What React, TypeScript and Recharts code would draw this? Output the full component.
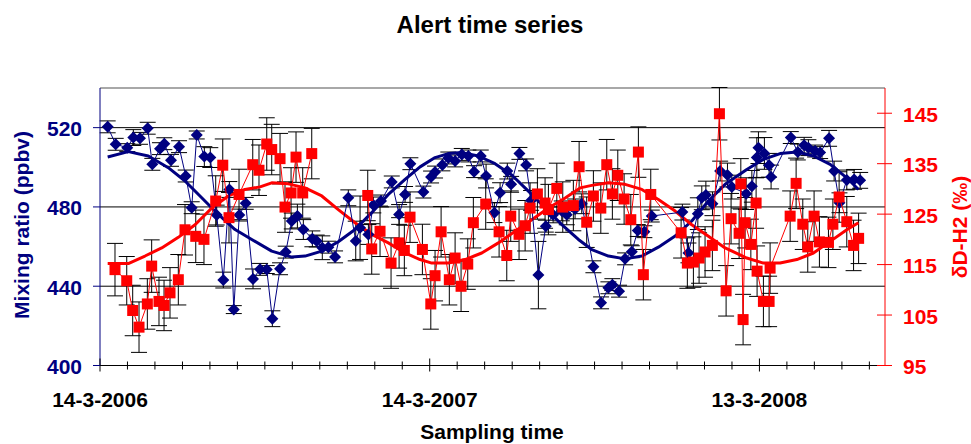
import React from 'react';
import { ComposedChart, Scatter, XAxis, YAxis, CartesianGrid, ErrorBar, ReferenceLine } from 'recharts';

const FONT = '"Liberation Sans", Arial, Helvetica, sans-serif';
const NAVY = '#000080';
const RED = '#ff0000';

// days since 14-3-2006
const blueDays = [8.5, 17.4, 30.2, 36.9, 44.3, 52.8, 57.9, 66.4, 71.2, 78.6, 87.5, 94.9, 101.5, 107.1, 115.5, 122.1, 129.2, 136.5, 143.2, 148.1, 154.2, 161.3, 169.4, 177.2, 184.6, 190.8, 199.3, 205.6, 212.3, 218.5, 225.1, 235.1, 239.9, 246.1, 252.8, 260.2, 274.9, 283.1, 287.9, 297.1, 302.6, 311.1, 323.0, 331.1, 337.7, 343.6, 358.0, 366.5, 370.9, 379.0, 385.6, 393.1, 400.5, 407.8, 414.1, 421.5, 427.4, 436.6, 442.9, 450.9, 455.1, 464.3, 471.7, 477.2, 485.3, 493.5, 501.6, 511.2, 516.7, 525.9, 533.3, 546.2, 554.7, 562.8, 567.2, 574.6, 581.3, 588.7, 595.3, 602.6, 610.8, 644.7, 651.4, 661.8, 666.2, 670.7, 678.0, 686.5, 694.6, 699.4, 715.3, 721.6, 727.1, 728.9, 735.5, 740.7, 742.9, 764.7, 772.5, 779.5, 784.2, 791.6, 797.2, 807.1, 812.7, 818.6, 826.7, 834.8, 841.5];
const blueValues = [520.4, 511.6, 509.9, 515.0, 514.6, 519.7, 501.5, 509.4, 511.9, 503.5, 510.4, 495.6, 479.6, 516.3, 505.4, 504.9, 475.9, 443.1, 488.8, 428.2, 475.9, 481.8, 443.7, 448.5, 448.4, 423.6, 448.8, 457.2, 472.9, 475.4, 468.6, 463.9, 462.8, 459.4, 459.7, 454.8, 484.6, 462.8, 469.5, 466.1, 481.0, 483.0, 492.6, 476.2, 486.3, 501.8, 487.5, 495.1, 497.6, 501.2, 504.7, 503.2, 506.5, 505.7, 497.8, 505.7, 495.6, 477.1, 487.2, 498.1, 491.4, 507.0, 501.2, 483.3, 445.6, 470.3, 476.0, 478.0, 476.0, 479.0, 481.6, 449.8, 431.6, 439.2, 440.8, 437.5, 453.8, 457.4, 468.1, 467.5, 475.4, 477.4, 456.8, 476.6, 484.6, 486.0, 481.6, 498.1, 496.1, 490.0, 486.7, 490.4, 504.9, 509.9, 507.0, 501.0, 495.1, 515.0, 507.7, 511.1, 509.9, 508.2, 507.4, 514.6, 498.1, 482.1, 493.6, 493.9, 493.4];
const blueErrors = [3, 3, 2, 4, 3, 3, 3, 3, 3, 3, 3, 3, 3, 2, 5, 5, 5, 4, 4, 2, 3, 3, 5, 3, 2, 4, 3, 3, 4, 6, 5, 4, 3, 6, 3, 3, 4, 10, 16, 5, 4, 3, 3, 5, 4, 3, 3, 3, 3, 3, 3, 3, 3, 3, 3, 3, 6, 5, 5, 4, 4, 3, 3, 5, 17, 3, 4, 5, 5, 5, 5, 3, 3, 3, 3, 3, 3, 3, 3, 3, 3, 4, 5, 8, 6, 7, 6, 5, 6, 6, 8, 8, 10, 8, 8, 6, 6, 3, 4, 4, 4, 3, 3, 4, 5, 5, 5, 5, 4];

const redDays = [16.6, 29.6, 36.2, 43.2, 52.4, 57.2, 65.3, 70.9, 77.5, 86.7, 94.1, 106.0, 115.1, 128.1, 135.9, 142.8, 153.9, 169.1, 176.0, 184.6, 190.1, 199.3, 204.8, 211.5, 217.0, 224.4, 234.4, 296.4, 300.8, 310.0, 322.2, 331.1, 336.9, 343.2, 356.9, 366.2, 370.9, 377.6, 386.7, 393.1, 399.7, 407.1, 413.3, 427.0, 441.8, 450.3, 454.7, 463.9, 470.6, 476.1, 484.2, 492.7, 496.4, 505.7, 512.3, 524.0, 530.4, 538.8, 546.2, 554.4, 561.0, 567.2, 573.2, 580.2, 587.6, 596.0, 601.5, 609.7, 643.3, 650.2, 656.9, 663.2, 669.8, 677.9, 685.7, 693.1, 698.6, 707.5, 709.4, 711.9, 714.1, 720.5, 726.3, 727.4, 734.4, 740.7, 741.8, 764.0, 770.6, 778.0, 783.5, 790.5, 796.4, 806.4, 811.3, 818.2, 826.7, 834.2, 839.8];
const redValues = [114.0, 111.8, 105.9, 102.6, 107.2, 114.7, 107.7, 106.9, 109.4, 112.0, 121.9, 120.6, 120.0, 127.6, 134.7, 124.3, 128.9, 134.8, 133.7, 138.9, 137.8, 136.0, 126.4, 129.2, 136.3, 129.2, 137.0, 128.7, 118.1, 121.6, 115.3, 119.3, 117.8, 124.4, 118.0, 107.2, 112.8, 121.5, 112.0, 116.3, 110.7, 115.1, 123.3, 127.0, 121.5, 116.8, 124.6, 121.0, 122.7, 126.2, 129.0, 127.2, 125.9, 130.1, 126.4, 126.7, 134.4, 123.4, 128.6, 126.2, 134.8, 129.0, 132.7, 128.0, 123.9, 137.3, 113.0, 128.9, 121.3, 115.3, 115.5, 116.3, 117.5, 118.8, 144.9, 109.8, 124.1, 121.2, 131.0, 104.1, 123.3, 119.0, 127.2, 113.7, 107.7, 107.7, 114.3, 124.6, 131.1, 123.0, 118.5, 124.6, 119.5, 119.4, 123.0, 128.4, 123.5, 118.8, 120.2];
const redErrors = [5.2, 4.8, 5.0, 5.0, 5.0, 5.2, 4.8, 5.0, 5.0, 5.0, 5.0, 5.2, 5.0, 5.0, 5.2, 5.0, 5.0, 5.0, 5.0, 5.2, 5.0, 5.0, 5.0, 5.0, 5.0, 5.0, 5.0, 5.0, 5.0, 5.0, 5.0, 5.0, 5.0, 5.0, 5.0, 5.0, 5.0, 5.0, 5.0, 5.0, 5.0, 5.0, 5.0, 5.0, 5.0, 5.0, 5.0, 5.0, 5.0, 5.0, 5.0, 5.0, 5.0, 5.0, 5.0, 5.0, 5.0, 5.0, 5.0, 5.0, 5.0, 5.0, 5.0, 5.0, 5.0, 5.0, 5.0, 5.0, 5.0, 5.0, 5.0, 5.0, 5.0, 5.0, 5.2, 5.0, 5.0, 5.0, 5.0, 5.0, 5.0, 5.0, 5.0, 5.0, 5.0, 5.0, 5.0, 5.0, 5.0, 5.0, 5.0, 5.0, 5.0, 5.0, 5.0, 5.0, 5.0, 5.0, 5.0];
// the red line is interrupted by a data gap after this day
const redGapAfterDay = 234.4;

const blueFitDays = [8.5, 31.3, 53.5, 75.6, 94.1, 112.6, 131.0, 149.5, 168.0, 190.1, 212.3, 227.0, 245.5, 263.8, 282.3, 300.8, 319.2, 337.7, 354.3, 370.9, 385.6, 400.5, 418.9, 437.3, 455.8, 474.2, 492.7, 511.2, 529.6, 544.4, 562.8, 581.3, 599.8, 618.1, 636.7, 655.1, 673.5, 692.0, 716.0, 734.4, 752.9, 771.4, 789.8, 808.3, 826.7, 839.6];
const blueFitValues = [505.2, 507.9, 505.7, 499.8, 493.1, 484.6, 476.2, 468.6, 463.6, 457.7, 454.7, 455.2, 457.7, 462.4, 468.6, 477.1, 486.3, 493.9, 500.2, 504.9, 506.9, 507.4, 505.7, 501.8, 496.1, 488.0, 479.6, 471.1, 463.6, 458.5, 455.2, 453.8, 455.2, 459.7, 465.3, 472.9, 483.0, 491.4, 498.9, 504.0, 506.9, 507.7, 505.7, 501.5, 494.7, 488.8];

const redFitDays = [8.5, 31.3, 49.8, 68.3, 86.7, 105.2, 123.7, 142.1, 160.5, 177.2, 190.1, 208.5, 227.0, 245.5, 263.8, 282.3, 300.8, 319.2, 337.7, 354.3, 367.3, 385.6, 404.1, 422.6, 441.0, 459.5, 478.0, 496.4, 514.9, 531.5, 544.4, 562.8, 581.3, 599.8, 618.1, 636.7, 655.1, 673.5, 692.0, 716.0, 734.4, 752.9, 771.4, 789.8, 808.3, 826.7, 839.6];
const redFitValues = [115.2, 115.2, 116.7, 118.3, 120.4, 122.9, 126.2, 128.6, 129.9, 130.4, 131.2, 131.0, 130.2, 128.6, 125.9, 123.3, 121.0, 119.3, 117.3, 116.0, 115.3, 115.3, 116.0, 117.3, 119.3, 121.6, 123.9, 126.2, 128.2, 130.2, 130.7, 131.2, 130.9, 129.9, 127.9, 125.6, 122.9, 120.6, 118.3, 116.3, 115.3, 115.3, 116.0, 117.3, 119.6, 121.9, 123.3];

const xTicks = [0, 30.4, 60.8, 91.3, 121.7, 152.1, 182.5, 212.9, 243.3, 273.8, 304.2, 334.6, 365, 395.4, 425.8, 456.3, 486.7, 517.1, 547.5, 577.9, 608.3, 638.8, 669.2, 699.6, 730, 760.4, 790.8, 821.3, 851.7];
const xMajorTicks = [0, 365, 730];
const xMajorLabels = ['14-3-2006', '14-3-2007', '13-3-2008'];
const leftTicks = [400, 440, 480, 520];
const rightTicks = [95, 105, 115, 125, 135, 145];

const blueData = blueDays.map((d, i) => ({ day: d, v: blueValues[i], e: blueErrors[i] }));
const redData = redDays.map((d, i) => ({ day: d, r: redValues[i], e: redErrors[i] }));
const redDataA = redData.filter((p) => p.day <= redGapAfterDay);
const redDataB = redData.filter((p) => p.day > redGapAfterDay);
const blueFitData = blueFitDays.map((d, i) => ({ day: d, v: blueFitValues[i] }));
const redFitData = redFitDays.map((d, i) => ({ day: d, r: redFitValues[i] }));

const Diamond = (p: any) => {
  const { cx, cy } = p;
  if (cx == null || cy == null) return <g />;
  return <polygon points={`${cx},${cy - 6} ${cx + 6},${cy} ${cx},${cy + 6} ${cx - 6},${cy}`} fill={NAVY} />;
};
const Square = (p: any) => {
  const { cx, cy } = p;
  if (cx == null || cy == null) return <g />;
  return <rect x={cx - 5.5} y={cy - 5.5} width={11} height={11} fill={RED} />;
};
const NoShape = () => <g />;

const XTick = (props: any) => {
  const { x, y, payload } = props;
  const idx = xMajorTicks.indexOf(payload.value);
  const major = idx >= 0;
  return (
    <g>
      <line x1={x} x2={x} y1={major ? y - 7 : y - 4} y2={major ? y + 6 : y + 4} stroke="#000" strokeWidth={1} />
      {major && (
        <text x={x} y={y + 41} textAnchor="middle" fontFamily={FONT} fontWeight="bold" fontSize={21} fill="#000">
          {xMajorLabels[idx]}
        </text>
      )}
    </g>
  );
};

const LeftTick = (props: any) => {
  const { x, y, payload } = props;
  return (
    <g>
      <line x1={x - 7} x2={x} y1={y} y2={y} stroke={NAVY} strokeWidth={1} />
      <text x={x - 18} y={y} dy={8.5} textAnchor="end" fontFamily={FONT} fontWeight="bold" fontSize={21} fill={NAVY}>
        {payload.value}
      </text>
    </g>
  );
};

const RightTick = (props: any) => {
  const { x, y, payload } = props;
  return (
    <g>
      <line x1={x - 8} x2={x + 7} y1={y} y2={y} stroke={RED} strokeWidth={1} />
      <text x={x + 18} y={y} dy={8.5} textAnchor="start" fontFamily={FONT} fontWeight="bold" fontSize={21} fill={RED}>
        {payload.value}
      </text>
    </g>
  );
};

export default function App() {
  return (
    <div style={{ position: 'absolute', left: 0, top: 0, width: 971, height: 444, background: '#fff' }}>
      <ComposedChart width={971} height={444} margin={{ top: 88, right: 26, bottom: 38.5, left: 40 }}>
        <CartesianGrid yAxisId="left" vertical={false} horizontal={true} stroke="#000" strokeWidth={1} />
        <XAxis
          type="number"
          dataKey="day"
          domain={[0, 869]}
          allowDataOverflow
          ticks={xTicks}
          interval={0}
          tick={XTick}
          tickLine={false}
          tickSize={0}
          tickMargin={0}
          axisLine={{ stroke: '#000', strokeWidth: 1 }}
          height={40}
        />
        <YAxis
          yAxisId="left"
          orientation="left"
          type="number"
          domain={[400, 540]}
          allowDataOverflow
          ticks={leftTicks}
          interval={0}
          tick={LeftTick}
          tickLine={false}
          tickSize={0}
          tickMargin={0}
          axisLine={{ stroke: NAVY, strokeWidth: 1 }}
          width={60}
        />
        <YAxis
          yAxisId="right"
          orientation="right"
          type="number"
          domain={[95, 150]}
          allowDataOverflow
          ticks={rightTicks}
          interval={0}
          tick={RightTick}
          tickLine={false}
          tickSize={0}
          tickMargin={0}
          axisLine={{ stroke: RED, strokeWidth: 1 }}
          width={60}
        />
        <ReferenceLine yAxisId="left" y={540} stroke="#a8a8a8" strokeWidth={2} />
        <Scatter
          yAxisId="left"
          data={blueFitData}
          dataKey="v"
          fill={NAVY}
          shape={NoShape}
          line={{ stroke: NAVY, strokeWidth: 3, strokeLinejoin: 'round' }}
          lineType="joint"
          isAnimationActive={false}
        />
        <Scatter
          yAxisId="right"
          data={redFitData}
          dataKey="r"
          fill={RED}
          shape={NoShape}
          line={{ stroke: RED, strokeWidth: 3, strokeLinejoin: 'round' }}
          lineType="joint"
          isAnimationActive={false}
        />
        <Scatter
          yAxisId="left"
          data={blueData}
          dataKey="v"
          fill={NAVY}
          shape={Diamond}
          line={{ stroke: NAVY, strokeWidth: 1 }}
          lineType="joint"
          isAnimationActive={false}
        >
          <ErrorBar dataKey="e" direction="y" width={8} stroke="#000" strokeWidth={1} isAnimationActive={false} />
        </Scatter>
        <Scatter
          yAxisId="right"
          data={redDataA}
          dataKey="r"
          fill={RED}
          shape={Square}
          line={{ stroke: RED, strokeWidth: 1 }}
          lineType="joint"
          isAnimationActive={false}
        >
          <ErrorBar dataKey="e" direction="y" width={8} stroke="#000" strokeWidth={1} isAnimationActive={false} />
        </Scatter>
        <Scatter
          yAxisId="right"
          data={redDataB}
          dataKey="r"
          fill={RED}
          shape={Square}
          line={{ stroke: RED, strokeWidth: 1 }}
          lineType="joint"
          isAnimationActive={false}
        >
          <ErrorBar dataKey="e" direction="y" width={8} stroke="#000" strokeWidth={1} isAnimationActive={false} />
        </Scatter>
      </ComposedChart>
      <svg width={971} height={444} style={{ position: 'absolute', left: 0, top: 0, pointerEvents: 'none' }}>
        <text x={490} y={33} textAnchor="middle" fontFamily={FONT} fontWeight="bold" fontSize={24} fill="#000">
          Alert time series
        </text>
        <text x={28.5} y={225} transform="rotate(-90, 28.5, 225)" textAnchor="middle" fontFamily={FONT} fontWeight="bold" fontSize={21} fill={NAVY}>
          Mixing ratio (ppbv)
        </text>
        <text x={967} y={227} transform="rotate(-90, 967, 227)" textAnchor="middle" fontFamily={FONT} fontWeight="bold" fontSize={21} fill={RED}>
          δD-H2 (‰)
        </text>
        <text x={492} y={439} textAnchor="middle" fontFamily={FONT} fontWeight="bold" fontSize={21} fill="#000">
          Sampling time
        </text>
      </svg>
    </div>
  );
}
